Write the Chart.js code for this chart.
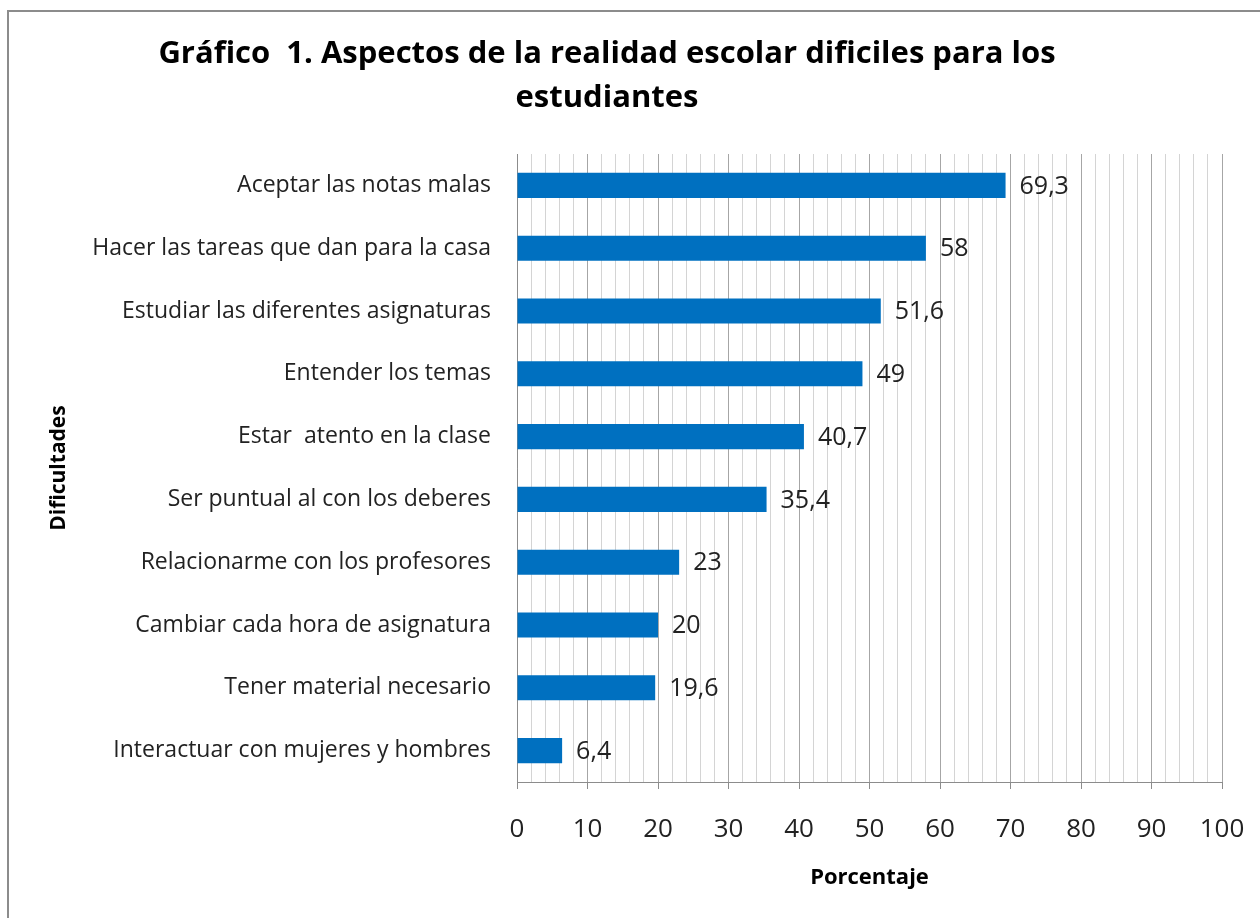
<!DOCTYPE html>
<html lang="es">
<head>
<meta charset="utf-8">
<title>Gráfico 1</title>
<script src="https://cdn.jsdelivr.net/npm/chart.js@4.4.1/dist/chart.umd.min.js"></script>
<style>
    html, body { margin: 0; padding: 0; background: #fff; overflow: hidden; }
    #frame {
        position: absolute; left: 7px; top: 10px;
        width: 1400px; height: 1000px;
        border: 2px solid #8c8c8c;
    }
    #wrap { position: absolute; left: 0; top: 0; width: 1260px; height: 918px; }
</style>
</head>
<body>
<div id="frame"></div>
<div id="wrap"><canvas id="chart"></canvas></div>
<script>
// data, top to bottom as in the picture
const categories = [
    'Aceptar las notas malas',
    'Hacer las tareas que dan para la casa',
    'Estudiar las diferentes asignaturas',
    'Entender los temas',
    'Estar  atento en la clase',
    'Ser puntual al con los deberes',
    'Relacionarme con los profesores',
    'Cambiar cada hora de asignatura',
    'Tener material necesario',
    'Interactuar con mujeres y hombres',
];
const percentages = [69.3, 58, 51.6, 49, 40.7, 35.4, 23, 20, 19.6, 6.4];
const titleLines = ['Gráfico  1. Aspectos de la realidad escolar dificiles para los', 'estudiantes'];
const xTitle = 'Porcentaje';
const yTitle = 'Dificultades';

const FONT = '"Open Sans", sans-serif';
const fmt = (v) => String(v).replace('.', ',');

// chart title, centred a bit left of the canvas like the original
const titlePlugin = {
    id: 'titleText',
    afterDraw(chart) {
        const ctx = chart.ctx;
        ctx.save();
        ctx.fillStyle = '#000';
        ctx.font = 'bold 31px ' + FONT;
        ctx.textAlign = 'center';
        ctx.textBaseline = 'alphabetic';
        ctx.fillText(titleLines[0], 607, 63);
        ctx.fillText(titleLines[1], 607, 107);
        ctx.restore();
    },
};

// value labels to the right of each bar
const valueLabels = {
    id: 'valueLabels',
    afterDatasetsDraw(chart) {
        const ctx = chart.ctx;
        const meta = chart.getDatasetMeta(0);
        ctx.save();
        ctx.fillStyle = '#222';
        ctx.font = '25px ' + FONT;
        ctx.textAlign = 'left';
        ctx.textBaseline = 'middle';
        meta.data.forEach((bar, i) => {
            ctx.fillText(fmt(percentages[i]), bar.x + 14, bar.y + 1);
        });
        ctx.restore();
    },
};

new Chart(document.getElementById('chart'), {
    type: 'bar',
    data: {
        labels: categories,
        datasets: [
            {
                data: percentages,
                backgroundColor: '#0070c0',
                borderWidth: 0,
                categoryPercentage: 1,
                barPercentage: 0.4,
            },
        ],
    },
    options: {
        indexAxis: 'y',
        responsive: true,
        maintainAspectRatio: false,
        animation: false,
        layout: { padding: { top: 154, left: 0, right: 38, bottom: 0 } },
        plugins: {
            legend: { display: false },
            title: { display: false },
            tooltip: { enabled: false },
        },
        scales: {
            x: {
                min: 0,
                max: 100,
                afterFit: (s) => {
                    s.height = 136;
                    s.paddingRight = 0;
                    s.paddingLeft = 0;
                },
                ticks: {
                    stepSize: 2,
                    autoSkip: false,
                    maxRotation: 0,
                    padding: 25,
                    color: '#222',
                    font: { family: FONT, size: 26 },
                    callback: (v) => (v % 10 === 0 ? v : ''),
                },
                grid: {
                    color: (c) => (c.tick && c.tick.value % 10 === 0 ? '#a6a6a6' : '#d4d4d4'),
                    tickColor: (c) => (c.tick && c.tick.value % 10 === 0 ? '#8c8c8c' : 'rgba(0,0,0,0)'),
                    tickLength: 7,
                    lineWidth: 1,
                },
                border: { display: true, color: '#8c8c8c', width: 1 },
                title: {
                    display: true,
                    text: xTitle,
                    color: '#000',
                    font: { family: FONT, size: 22, weight: 'bold' },
                    padding: { top: 0, bottom: 27 },
                },
            },
            y: {
                afterFit: (s) => { s.width = 517; },
                ticks: {
                    padding: 18,
                    color: '#222',
                    font: { family: FONT, size: 23 },
                },
                grid: { display: false },
                border: { display: true, color: '#8c8c8c', width: 1 },
                title: {
                    display: true,
                    text: yTitle,
                    color: '#000',
                    font: { family: FONT, size: 21, weight: 'bold' },
                    padding: { top: 46, bottom: 0 },
                },
            },
        },
    },
    plugins: [titlePlugin, valueLabels],
});
</script>
</body>
</html>
